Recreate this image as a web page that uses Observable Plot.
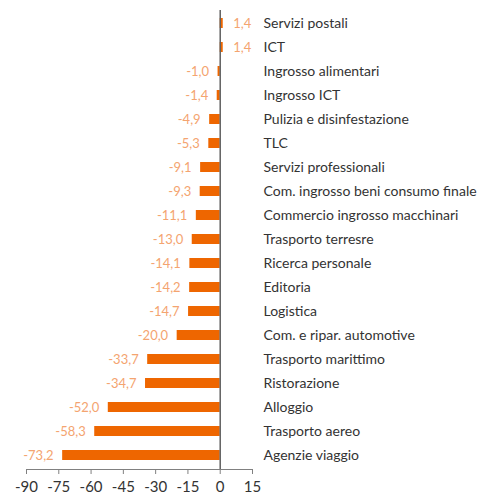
<!DOCTYPE html>
<html>
<head>
<meta charset="utf-8">
<script src="https://cdn.jsdelivr.net/npm/d3@7"></script>
<script src="https://cdn.jsdelivr.net/npm/@observablehq/plot@0.6"></script>
<style>
  html, body { margin: 0; padding: 0; background: #fff; }
  svg { display: block; }
</style>
</head>
<body>
<div id="chart"></div>
<script>
const categories = [
  "Servizi postali",
  "ICT",
  "Ingrosso alimentari",
  "Ingrosso ICT",
  "Pulizia e disinfestazione",
  "TLC",
  "Servizi professionali",
  "Com. ingrosso beni consumo finale",
  "Commercio ingrosso macchinari",
  "Trasporto terresre",
  "Ricerca personale",
  "Editoria",
  "Logistica",
  "Com. e ripar. automotive",
  "Trasporto marittimo",
  "Ristorazione",
  "Alloggio",
  "Trasporto aereo",
  "Agenzie viaggio"
];
const values = [1.4, 1.4, -1.0, -1.4, -4.9, -5.3, -9.1, -9.3, -11.1, -13.0, -14.1, -14.2, -14.7, -20.0, -33.7, -34.7, -52.0, -58.3, -73.2];
const xTicks = [-90, -75, -60, -45, -30, -15, 0, 15];

const data = categories.map((c, i) => ({category: c, value: values[i]}));
const fmt = v => v.toFixed(1).replace(".", ",");
const font = "Lato, 'Open Sans', sans-serif";

const chart = Plot.plot({
  width: 483,
  height: 494,
  marginTop: 10,
  marginBottom: 25,
  marginLeft: 26,
  marginRight: 231,
  style: {fontFamily: font, background: "#fff"},
  x: {domain: [-90, 15], ticks: xTicks},
  y: {domain: categories, paddingInner: 0.57, paddingOuter: 0.285},
  marks: [
    Plot.barX(data, {x: "value", y: "category", fill: "#ee6600"}),
    Plot.ruleX([0], {stroke: "#606060", strokeWidth: 1.5}),
    Plot.frame({anchor: "bottom", stroke: "#808080"}),
    Plot.text(data.filter(d => d.value < 0), {
      x: "value", y: "category", text: d => fmt(d.value),
      textAnchor: "end", dx: -9, fill: "#f4a470", fontSize: 13
    }),
    Plot.text(data.filter(d => d.value >= 0), {
      x: "value", y: "category", text: d => fmt(d.value),
      textAnchor: "start", dx: 10, fill: "#f4a470", fontSize: 13
    }),
    Plot.axisY({anchor: "right", tickSize: 0, tickPadding: 11, fontSize: 14, fill: "#333", label: null}),
    Plot.axisX({anchor: "bottom", ticks: xTicks, tickSize: 5, tickPadding: 7, fontSize: 15,
      stroke: "#808080", fill: "#333", tickFormat: d => String(d), label: null})
  ]
});
document.getElementById("chart").appendChild(chart);
</script>
</body>
</html>
